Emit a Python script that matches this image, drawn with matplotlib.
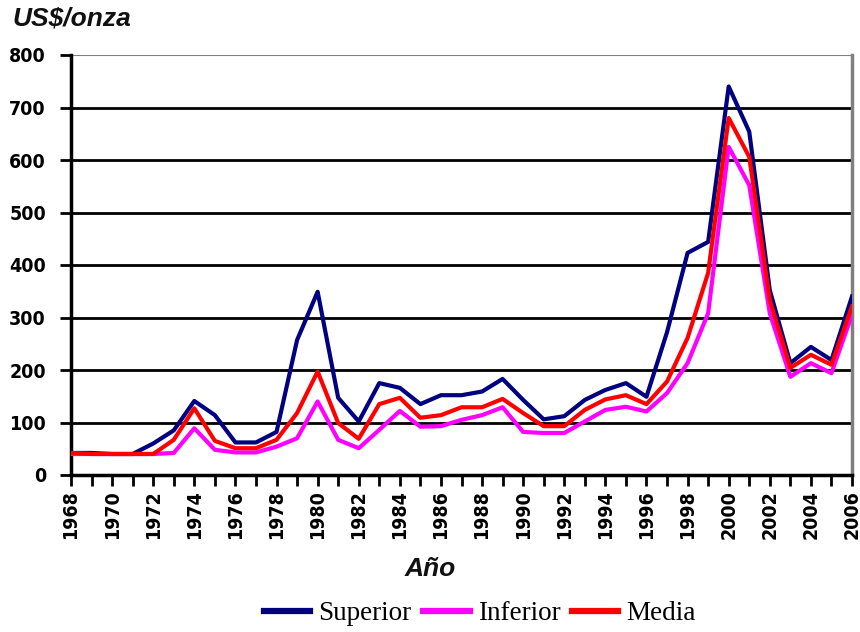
import matplotlib
matplotlib.use("Agg")
import matplotlib.pyplot as plt
from matplotlib.lines import Line2D

years = list(range(1968, 2007))
superior = [42, 42, 40, 40, 60, 85, 141, 114, 62, 62, 82, 257, 349, 147, 102, 175, 166, 135,
            152, 152, 159, 183, 143, 106, 112, 143, 162, 175, 149, 272, 423, 444, 740, 654,
            352, 213, 244, 219, 340]
inferior = [40, 40, 40, 40, 40, 42, 89, 48, 43, 43, 54, 70, 140, 67, 51, 86, 122, 92,
            93, 105, 114, 129, 82, 80, 80, 102, 124, 130, 121, 156, 213, 308, 625, 552,
            308, 187, 213, 194, 305]
media = [42, 40, 40, 40, 40, 67, 127, 65, 51, 51, 67, 118, 197, 99, 69, 135, 147, 109,
         114, 129, 129, 145, 118, 93, 93, 124, 144, 152, 135, 178, 261, 385, 680, 606,
         333, 204, 229, 210, 321]
yticks = [0, 100, 200, 300, 400, 500, 600, 700, 800]
xlabels = list(range(1968, 2007, 2))

fig = plt.figure(figsize=(8.6, 6.32), dpi=100)
ax = fig.add_axes([71/860, 1-475/632, (852-71)/860, (475-55)/632])

for v in yticks[1:-1]:
    ax.axhline(v, color='black', lw=2.0, zorder=1)
ax.axhline(800, color='#808080', lw=1.5, zorder=1)

lw = 3.0
ax.plot(years, superior, color='#000080', lw=lw, zorder=3, label='Superior')
ax.plot(years, inferior, color='#FF00FF', lw=lw, zorder=4, label='Inferior')
ax.plot(years, media, color='#FF0000', lw=lw, zorder=5, label='Media')

ax.set_xlim(1968, 2006)
ax.set_ylim(0, 800)
ax.set_yticks(yticks)
ax.set_xticks(years)
ax.set_xticklabels([str(y) if y in xlabels else '' for y in years], rotation=90,
                   fontsize=14, fontweight='bold', fontstretch='condensed')
ax.set_yticklabels([str(v) for v in yticks], fontsize=14, fontweight='bold',
                   fontstretch='condensed')
ax.tick_params(axis='both', direction='out', length=8, width=2, color='black')
ax.tick_params(axis='x', pad=3)
ax.tick_params(axis='y', pad=10)

for s in ['left', 'bottom']:
    ax.spines[s].set_linewidth(2.5)
    ax.spines[s].set_color('black')
ax.spines['right'].set_color('#808080')
ax.spines['right'].set_linewidth(2.5)
ax.spines['top'].set_visible(False)

fig.text(12/860, 1-19/632, 'US$/onza', fontsize=19, fontweight='bold', style='italic',
         family='Liberation Sans', va='center', ha='left', color='#111111')
fig.text(430/860, 1-569/632, 'Año', fontsize=19, fontweight='bold', style='italic',
         family='Liberation Sans', va='center', ha='center', color='#111111')

handles = [Line2D([0], [0], color=c, lw=4.5) for c in ['#000080', '#FF00FF', '#FF0000']]
leg = fig.legend(handles, ['Superior', 'Inferior', 'Media'], loc='center',
                 bbox_to_anchor=(480/860, 1-614/632), ncol=3, frameon=False,
                 prop={'family': 'Liberation Serif', 'size': 19.5}, handlelength=1.7,
                 handletextpad=0.3, columnspacing=0.45)

fig.savefig('out.png', dpi=100)
